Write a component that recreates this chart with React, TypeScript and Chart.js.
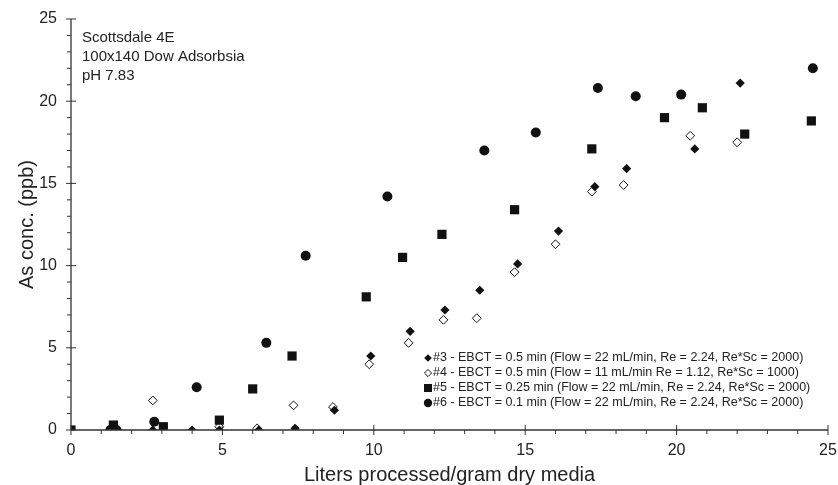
import React, { useEffect, useRef } from "react";
import { Chart, registerables } from "chart.js";

Chart.register(...registerables);

// ---- Data ----
const s3Label = "#3 - EBCT = 0.5 min (Flow = 22 mL/min, Re = 2.24, Re*Sc = 2000)";
const s3X = [1.55, 2.7, 4.0, 4.9, 6.2, 7.4, 8.7, 9.9, 11.2, 12.35, 13.5, 14.75, 16.1, 17.3, 18.35, 20.6, 22.1];
const s3Y = [0, 0, 0, 0, 0, 0.1, 1.2, 4.5, 6.0, 7.3, 8.5, 10.1, 12.1, 14.8, 15.9, 17.1, 21.1];

const s4Label = "#4 - EBCT = 0.5 min (Flow = 11 mL/min Re = 1.12, Re*Sc = 1000)";
const s4X = [2.7, 4.9, 6.15, 7.35, 8.65, 9.85, 11.15, 12.3, 13.4, 14.65, 16.0, 17.2, 18.25, 20.45, 22.0];
const s4Y = [1.8, 0.2, 0.1, 1.5, 1.4, 4.0, 5.3, 6.7, 6.8, 9.6, 11.3, 14.5, 14.9, 17.9, 17.5];

const s5Label = "#5 - EBCT = 0.25 min (Flow = 22 mL/min, Re = 2.24, Re*Sc = 2000)";
const s5X = [0, 1.4, 3.05, 4.9, 6.0, 7.3, 9.75, 10.95, 12.25, 14.65, 17.2, 19.6, 20.85, 22.25, 24.45];
const s5Y = [0, 0.3, 0.2, 0.6, 2.5, 4.5, 8.1, 10.5, 11.9, 13.4, 17.1, 19.0, 19.6, 18.0, 18.8];

const s6Label = "#6 - EBCT = 0.1 min (Flow = 22 mL/min, Re = 2.24, Re*Sc = 2000)";
const s6X = [1.3, 1.5, 2.75, 4.15, 6.45, 7.75, 10.45, 13.65, 15.35, 17.4, 18.65, 20.15, 24.5];
const s6Y = [0, 0, 0.5, 2.6, 5.3, 10.6, 14.2, 17.0, 18.1, 20.8, 20.3, 20.4, 22.0];

const annotationLines = ["Scottsdale 4E", "100x140 Dow Adsorbsia", "pH 7.83"];
const xTitle = "Liters processed/gram dry media";
const yTitle = "As conc. (ppb)";
const axisMin = 0;
const axisMax = 25;
const majorStep = 5;

const INK = "#111111";
const TEXT = "#222222";
const FONT = "'Liberation Sans', Arial, Helvetica, sans-serif";

const toPoints = (xs: number[], ys: number[]) => xs.map((x, i) => ({ x, y: ys[i] }));

function drawMarker(ctx: CanvasRenderingContext2D, kind: string, x: number, y: number, r: number) {
  ctx.save();
  ctx.beginPath();
  if (kind === "diamond" || kind === "openDiamond") {
    ctx.moveTo(x - r, y);
    ctx.lineTo(x, y - r);
    ctx.lineTo(x + r, y);
    ctx.lineTo(x, y + r);
    ctx.closePath();
  } else if (kind === "square") {
    ctx.rect(x - r, y - r, 2 * r, 2 * r);
  } else {
    ctx.arc(x, y, r, 0, Math.PI * 2);
  }
  if (kind === "openDiamond") {
    ctx.fillStyle = "#ffffff";
    ctx.fill();
    ctx.lineWidth = 1;
    ctx.strokeStyle = INK;
    ctx.stroke();
  } else {
    ctx.fillStyle = INK;
    ctx.fill();
  }
  ctx.restore();
}

const decorPlugin = {
  id: "decor",
  afterDraw(chart: any) {
    const { ctx, chartArea, scales } = chart;
    const xs = scales.x;
    const ys = scales.y;
    const left = chartArea.left;
    const bottom = chartArea.bottom;
    ctx.save();
    ctx.strokeStyle = "#333333";
    ctx.lineWidth = 1.3;
    ctx.beginPath();
    ctx.moveTo(xs.getPixelForValue(axisMin), bottom);
    ctx.lineTo(xs.getPixelForValue(axisMax), bottom);
    ctx.moveTo(left, ys.getPixelForValue(axisMin));
    ctx.lineTo(left, ys.getPixelForValue(axisMax));
    ctx.stroke();
    ctx.lineWidth = 1;
    ctx.beginPath();
    for (let v = axisMin; v <= axisMax; v++) {
      const major = v % majorStep === 0;
      const px = xs.getPixelForValue(v);
      if (major) {
        ctx.moveTo(px, bottom - 5);
        ctx.lineTo(px, bottom + 5);
      } else {
        ctx.moveTo(px, bottom);
        ctx.lineTo(px, bottom + 4);
      }
      const py = ys.getPixelForValue(v);
      if (major) {
        ctx.moveTo(left - 5, py);
        ctx.lineTo(left + 5, py);
      } else {
        ctx.moveTo(left - 4, py);
        ctx.lineTo(left, py);
      }
    }
    ctx.stroke();

    ctx.fillStyle = TEXT;
    ctx.font = `15px ${FONT}`;
    ctx.textBaseline = "middle";
    ctx.textAlign = "left";
    annotationLines.forEach((t, i) => ctx.fillText(t, left + 11, 38 + i * 19));

    const items = [
      { kind: "diamond", label: s3Label, r: 3.8 },
      { kind: "openDiamond", label: s4Label, r: 3.6 },
      { kind: "square", label: s5Label, r: 4 },
      { kind: "circle", label: s6Label, r: 4.2 },
    ];
    const lx = 428;
    const ly0 = bottom - 72;
    ctx.font = `12.5px ${FONT}`;
    items.forEach((it, i) => {
      const yy = ly0 + i * 15;
      drawMarker(ctx, it.kind, lx, yy, it.r);
      ctx.fillStyle = TEXT;
      ctx.fillText(it.label, lx + 5, yy);
    });
    ctx.restore();
  },
};

export default function App() {
  const ref = useRef<HTMLCanvasElement | null>(null);
  useEffect(() => {
    if (!ref.current) return;
    const chart = new Chart(ref.current, {
      type: "scatter",
      data: {
        datasets: [
          {
            label: s3Label,
            data: toPoints(s3X, s3Y),
            pointStyle: "rectRot",
            pointRadius: 4.6,
            backgroundColor: INK,
            borderColor: INK,
            borderWidth: 0,
            order: 3,
          },
          {
            label: s4Label,
            data: toPoints(s4X, s4Y),
            pointStyle: "rectRot",
            pointRadius: 4.4,
            backgroundColor: "#ffffff",
            borderColor: INK,
            borderWidth: 1,
            order: 4,
          },
          {
            label: s5Label,
            data: toPoints(s5X, s5Y),
            pointStyle: "rect",
            pointRadius: 6.5,
            backgroundColor: INK,
            borderColor: INK,
            borderWidth: 0,
            order: 2,
          },
          {
            label: s6Label,
            data: toPoints(s6X, s6Y),
            pointStyle: "circle",
            pointRadius: 5,
            backgroundColor: INK,
            borderColor: INK,
            borderWidth: 0,
            order: 1,
          },
        ],
      },
      options: {
        responsive: false,
        animation: false,
        layout: { padding: { top: 19, right: 10, left: 0, bottom: 0 } },
        plugins: { legend: { display: false }, tooltip: { enabled: false } },
        scales: {
          x: {
            type: "linear",
            min: axisMin,
            max: axisMax,
            afterFit: (s: any) => {
              s.height = 55;
              s.paddingLeft = 0;
              s.paddingRight = 0;
            },
            grid: { display: false, drawTicks: false },
            border: { display: false },
            ticks: {
              stepSize: majorStep,
              padding: 11,
              color: TEXT,
              font: { family: FONT, size: 16 },
            },
            title: {
              display: true,
              text: xTitle,
              color: TEXT,
              font: { family: FONT, size: 20 },
              padding: { top: 0, bottom: -2 },
            },
          },
          y: {
            type: "linear",
            min: axisMin,
            max: axisMax,
            afterFit: (s: any) => {
              s.width = 71;
              s.paddingTop = 0;
              s.paddingBottom = 0;
            },
            grid: { display: false, drawTicks: false },
            border: { display: false },
            ticks: {
              stepSize: majorStep,
              padding: 14,
              color: TEXT,
              font: { family: FONT, size: 16 },
            },
            title: {
              display: true,
              text: yTitle,
              color: TEXT,
              font: { family: FONT, size: 20 },
              padding: { top: 15, bottom: 0 },
            },
          },
        },
      },
      plugins: [decorPlugin],
    });
    return () => chart.destroy();
  }, []);
  return (
    <div style={{ position: "fixed", left: 0, top: 0, width: 838, height: 485, background: "#fff" }}>
      <canvas ref={ref} width={838} height={485} />
    </div>
  );
}
